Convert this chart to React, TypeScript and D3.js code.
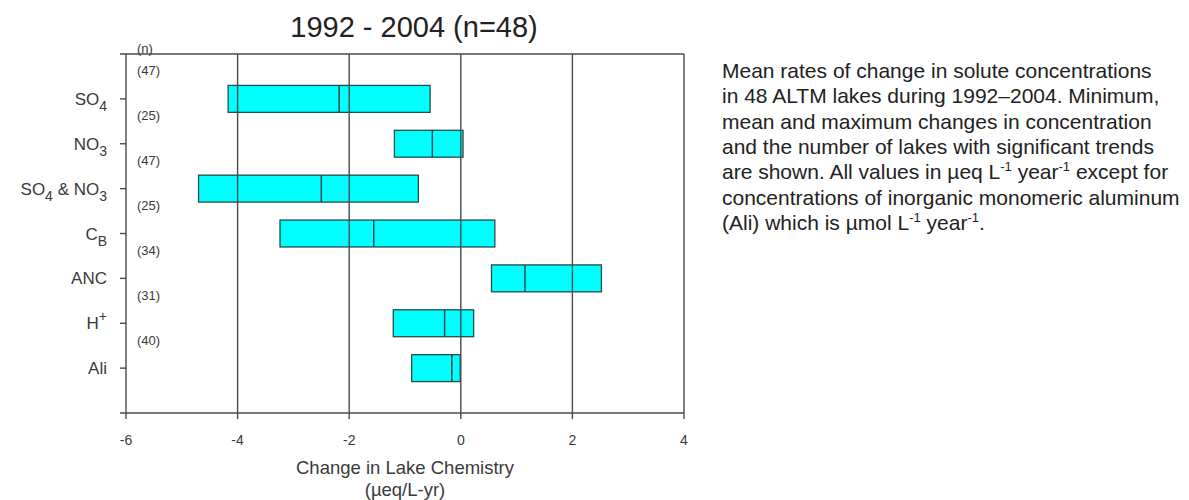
import React from "react";
import * as d3 from "d3";

const categories = ["SO4", "NO3", "SO4 & NO3", "CB", "ANC", "H+", "Ali"];
const minValues = [-4.17, -1.19, -4.7, -3.24, 0.55, -1.21, -0.88];
const meanValues = [-2.18, -0.51, -2.5, -1.56, 1.15, -0.29, -0.16];
const maxValues = [-0.55, 0.04, -0.76, 0.61, 2.52, 0.23, -0.01];
const nLakes = [47, 25, 47, 25, 34, 31, 40];
const xTicks = [-6, -4, -2, 0, 2, 4];

const title = "1992 - 2004 (n=48)";
const xTitle1 = "Change in Lake Chemistry";
const xTitle2 = "(\u00b5eq/L-yr)";

type Part = { t: string; sub?: boolean; sup?: boolean };
const labelParts: Record<string, Part[]> = {
  SO4: [{ t: "SO" }, { t: "4", sub: true }],
  NO3: [{ t: "NO" }, { t: "3", sub: true }],
  "SO4 & NO3": [{ t: "SO" }, { t: "4", sub: true }, { t: " & NO" }, { t: "3", sub: true }],
  CB: [{ t: "C" }, { t: "B", sub: true }],
  ANC: [{ t: "ANC" }],
  "H+": [{ t: "H" }, { t: "+", sup: true }],
  Ali: [{ t: "Ali" }],
};

const captionLines: Part[][] = [
  [{ t: "Mean rates of change in solute concentrations" }],
  [{ t: "in 48 ALTM lakes during 1992\u20132004. Minimum," }],
  [{ t: "mean and maximum changes in concentration" }],
  [{ t: "and the number of lakes with significant trends" }],
  [
    { t: "are shown. All values in \u00b5eq L" },
    { t: "-1", sup: true },
    { t: " year" },
    { t: "-1", sup: true },
    { t: " except for" },
  ],
  [{ t: "concentrations of inorganic monomeric aluminum" }],
  [
    { t: "(Ali) which is \u00b5mol L" },
    { t: "-1", sup: true },
    { t: " year" },
    { t: "-1", sup: true },
    { t: "." },
  ],
];

const FONT = "'Liberation Sans', Arial, sans-serif";

function renderParts(parts: Part[], size: number, subSize: number, subShift: number, supShift: number) {
  const out: React.ReactNode[] = [];
  let offset = 0;
  parts.forEach((p, i) => {
    const target = p.sub ? subShift : p.sup ? -supShift : 0;
    const dy = target - offset;
    offset = target;
    out.push(
      <tspan key={i} dy={dy} fontSize={p.sub || p.sup ? subSize : size}>
        {p.t}
      </tspan>
    );
  });
  return out;
}

export default function App() {
  const width = 1189;
  const height = 500;
  const x = d3.scaleLinear().domain([-6, 4]).range([126, 684]);
  const y = d3.scaleLinear().domain([0, 8]).range([54, 413]);
  const band = y(1) - y(0);
  const barH = band * 0.6;
  const gridColor = "#4a4a4a";
  const textColor = "#3a3a3a";

  return (
    <svg
      width={width}
      height={height}
      style={{ position: "absolute", left: 0, top: 0, background: "#fff" }}
      fontFamily={FONT}
    >
      <text x={414} y={37} textAnchor="middle" fontSize={29} fill="#222">
        {title}
      </text>

      {categories.map((c, i) => {
        const cy = y(i + 1);
        return (
          <rect
            key={c}
            x={x(minValues[i])}
            y={cy - barH / 2}
            width={x(maxValues[i]) - x(minValues[i])}
            height={barH}
            fill="#00ffff"
            stroke="#2a4a4a"
            strokeWidth={1.3}
          />
        );
      })}

      {xTicks.map((t) => (
        <line key={"g" + t} x1={x(t)} x2={x(t)} y1={y(0)} y2={y(8)} stroke={gridColor} strokeWidth={1.4} />
      ))}

      {categories.map((c, i) => {
        const cy = y(i + 1);
        return (
          <line
            key={"m" + c}
            x1={x(meanValues[i])}
            x2={x(meanValues[i])}
            y1={cy - barH / 2}
            y2={cy + barH / 2}
            stroke="#2a4a4a"
            strokeWidth={1.5}
          />
        );
      })}

      <line x1={120} x2={x(4)} y1={y(0)} y2={y(0)} stroke={gridColor} strokeWidth={1.4} />
      <line x1={120} x2={x(4)} y1={y(8)} y2={y(8)} stroke={gridColor} strokeWidth={1.4} />

      {xTicks.map((t) => (
        <g key={"t" + t}>
          <line x1={x(t)} x2={x(t)} y1={y(8)} y2={y(8) + 6} stroke={gridColor} strokeWidth={1.4} />
          <text x={x(t)} y={445} textAnchor="middle" fontSize={14} fill={textColor}>
            {t}
          </text>
        </g>
      ))}

      {categories.map((c, i) => {
        const cy = y(i + 1);
        return (
          <g key={"y" + c}>
            <line x1={120} x2={x(-6)} y1={cy} y2={cy} stroke={gridColor} strokeWidth={1.4} />
            <text x={107} y={cy + 6} textAnchor="end" fontSize={17} fill={textColor}>
              {renderParts(labelParts[c], 17, 14, 6, 8)}
            </text>
          </g>
        );
      })}

      <text x={137} y={y(0) - 1} fontSize={13} fill={textColor}>
        (n)
      </text>
      {nLakes.map((n, i) => (
        <text key={"n" + i} x={137} y={y(i + 0.5) - 1} fontSize={13} fill={textColor}>
          ({n})
        </text>
      ))}

      <text x={405} y={474} textAnchor="middle" fontSize={18.5} fill={textColor}>
        {xTitle1}
      </text>
      <text x={405} y={496} textAnchor="middle" fontSize={18.5} fill={textColor}>
        {xTitle2}
      </text>

      {captionLines.map((line, i) => (
        <text key={"c" + i} x={722} y={78 + i * 25.3} fontSize={21} fill="#222">
          {renderParts(line, 21, 13, 0, 8)}
        </text>
      ))}
    </svg>
  );
}
